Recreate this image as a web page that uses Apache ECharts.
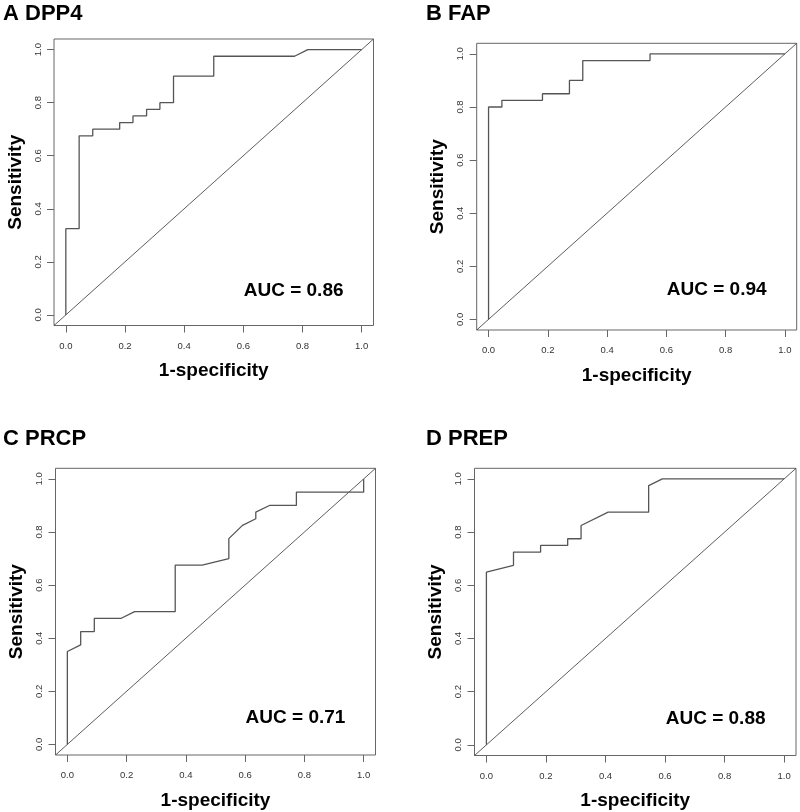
<!DOCTYPE html>
<html>
<head>
<meta charset="utf-8">
<script src="https://cdn.jsdelivr.net/npm/echarts@6/dist/echarts.min.js"></script>
<style>html,body{margin:0;padding:0;background:#fff}#c{width:800px;height:812px}</style>
</head>
<body>
<div id="c"></div>
<script>
// ---- data ----
const panelTitles = ['A DPP4', 'B FAP', 'C PRCP', 'D PREP'];
const aucLabels = ['AUC = 0.86', 'AUC = 0.94', 'AUC = 0.71', 'AUC = 0.88'];
const aucPos = [[0.77, 0.09], [0.77, 0.11], [0.77, 0.10], [0.77, 0.10]];
const tickValues = [0, 0.2, 0.4, 0.6, 0.8, 1.0];
const diagX = [-0.04, 1.04];
const diagY = [-0.04, 1.04];

const fprA = [0, 0, 0.045, 0.045, 0.091, 0.091, 0.182, 0.182, 0.227, 0.227, 0.273, 0.273, 0.318, 0.318, 0.364, 0.364, 0.5, 0.5, 0.773, 0.818, 1];
const tprA = [0, 0.325, 0.325, 0.675, 0.675, 0.7, 0.7, 0.725, 0.725, 0.75, 0.75, 0.775, 0.775, 0.8, 0.8, 0.9, 0.9, 0.975, 0.975, 1, 1];

const fprB = [0, 0, 0.045, 0.045, 0.182, 0.182, 0.273, 0.273, 0.318, 0.318, 0.545, 0.545, 1];
const tprB = [0, 0.8, 0.8, 0.825, 0.825, 0.85, 0.85, 0.9, 0.9, 0.975, 0.975, 1, 1];

const fprC = [0, 0, 0.045, 0.045, 0.091, 0.091, 0.182, 0.227, 0.364, 0.364, 0.455, 0.545, 0.545, 0.591, 0.636, 0.636, 0.682, 0.773, 0.773, 1, 1];
const tprC = [0, 0.35, 0.375, 0.425, 0.425, 0.475, 0.475, 0.5, 0.5, 0.675, 0.675, 0.7, 0.775, 0.825, 0.85, 0.875, 0.9, 0.9, 0.95, 0.95, 1];

const fprD = [0, 0, 0.091, 0.091, 0.182, 0.182, 0.273, 0.273, 0.318, 0.318, 0.409, 0.545, 0.545, 0.591, 1];
const tprD = [0, 0.65, 0.675, 0.725, 0.725, 0.75, 0.75, 0.775, 0.775, 0.825, 0.875, 0.875, 0.975, 1, 1];

const fprs = [fprA, fprB, fprC, fprD];
const tprs = [tprA, tprB, tprC, tprD];

// ---- layout ----
const FONT = '"Liberation Sans", Arial, Helvetica, sans-serif';
const grids = [
  {left: 54, top: 39, width: 319.5, height: 286.5},
  {left: 476.7, top: 43.3, width: 320, height: 286.7},
  {left: 55.5, top: 468.3, width: 320, height: 286.7},
  {left: 474.5, top: 468.3, width: 321.5, height: 287.2}
];
const titlePos = [[3, 3], [426, 3], [3, 428], [426, 428]];

const option = {
  animation: false,
  backgroundColor: '#fff',
  textStyle: {fontFamily: FONT},
  title: panelTitles.map((t, i) => ({
    text: t, left: titlePos[i][0], top: titlePos[i][1], padding: 0,
    textStyle: {fontSize: 22, fontWeight: 'bold', color: '#000', fontFamily: FONT}
  })),
  grid: grids.map(g => Object.assign({
    show: true, borderColor: '#666', borderWidth: 1, backgroundColor: 'transparent',
    containLabel: false, outerBoundsMode: 'none'
  }, g)),
  xAxis: grids.map((g, i) => ({
    type: 'value', gridIndex: i, min: -0.04, max: 1.04, position: 'bottom',
    axisLine: {show: false, onZero: false}, splitLine: {show: false},
    axisTick: {show: true, inside: false, customValues: tickValues, length: 7, lineStyle: {color: '#666'}},
    axisLabel: {customValues: tickValues, formatter: v => v.toFixed(1), fontSize: 9.5, color: '#333', margin: 15.5, fontFamily: FONT},
    name: '1-specificity', nameLocation: 'middle', nameGap: 36,
    nameTextStyle: {fontSize: 19, fontWeight: 'bold', color: '#000', fontFamily: FONT}
  })),
  yAxis: grids.map((g, i) => ({
    type: 'value', gridIndex: i, min: -0.04, max: 1.04, position: 'left',
    axisLine: {show: false, onZero: false}, splitLine: {show: false},
    axisTick: {show: true, inside: false, customValues: tickValues, length: 7, lineStyle: {color: '#666'}},
    axisLabel: {customValues: tickValues, formatter: v => v.toFixed(1), fontSize: 9.5, color: '#333', margin: 11, rotate: 90, fontFamily: FONT},
    name: 'Sensitivity', nameLocation: 'middle', nameGap: 29, nameRotate: 90,
    nameTextStyle: {fontSize: 19, fontWeight: 'bold', color: '#000', fontFamily: FONT}
  })),
  series: []
};

for (let i = 0; i < 4; i++) {
  option.series.push({
    type: 'line', xAxisIndex: i, yAxisIndex: i, silent: true,
    data: diagX.map((x, k) => [x, diagY[k]]),
    showSymbol: false, symbol: 'none',
    lineStyle: {color: '#333', width: 0.8}
  });
  option.series.push({
    type: 'line', xAxisIndex: i, yAxisIndex: i, silent: true,
    data: fprs[i].map((x, k) => [x, tprs[i][k]]),
    showSymbol: false, symbol: 'none',
    lineStyle: {color: '#555', width: 1.3}
  });
  option.series.push({
    type: 'scatter', xAxisIndex: i, yAxisIndex: i, silent: true,
    data: [aucPos[i]], symbolSize: 0,
    itemStyle: {opacity: 1},
    label: {show: true, position: 'inside', formatter: aucLabels[i],
      fontSize: 19, fontWeight: 'bold', color: '#000', opacity: 1, fontFamily: FONT}
  });
}

const chart = echarts.init(document.getElementById('c'), null, {renderer: 'canvas'});
chart.setOption(option);
</script>
</body>
</html>
